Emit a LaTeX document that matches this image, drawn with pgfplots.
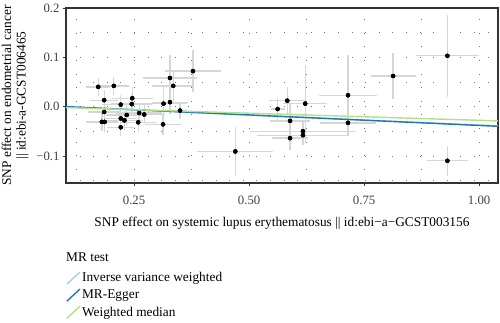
\documentclass[border=0pt]{standalone}
\usepackage{pgfplots}
\pgfplotsset{compat=1.18}
\usepackage{pgfplotstable}
\usepackage{fontspec}
\setmainfont{Liberation Serif}
\definecolor{ivw}{HTML}{A6CEE3}
\definecolor{egger}{HTML}{1F78B4}
\definecolor{wm}{HTML}{B2DF8A}
\definecolor{framec}{HTML}{333333}
\definecolor{ebar}{HTML}{D6D6D6}
\pgfplotstableread{
x y ex ey
0.172 0.040 0.026 0.018
0.206 0.042 0.032 0.018
0.185 0.013 0.030 0.020
0.185 -0.011 0.035 0.020
0.180 -0.031 0.035 0.018
0.186 -0.031 0.030 0.020
0.221 0.004 0.040 0.020
0.221 -0.024 0.035 0.020
0.221 -0.042 0.030 0.018
0.229 -0.028 0.040 0.020
0.234 -0.017 0.045 0.020
0.246 0.017 0.045 0.022
0.245 0.005 0.045 0.020
0.261 -0.013 0.050 0.020
0.259 -0.032 0.040 0.020
0.272 -0.016 0.045 0.020
0.314 0.006 0.050 0.035
0.313 -0.036 0.040 0.021
0.328 0.058 0.058 0.047
0.335 0.042 0.045 0.030
0.328 0.009 0.040 0.025
0.350 -0.008 0.015 0.017
0.378 0.072 0.061 0.043
0.470 -0.091 0.083 0.049
0.562 -0.005 0.015 0.022
0.583 0.012 0.040 0.027
0.589 -0.029 0.043 0.037
0.589 -0.064 0.040 0.025
0.617 -0.050 0.115 0.020
0.617 -0.058 0.100 0.020
0.622 0.006 0.048 0.078
0.715 0.023 0.064 0.082
0.715 -0.033 0.060 0.020
0.813 0.062 0.049 0.047
0.931 0.103 0.069 0.083
0.931 -0.110 0.044 0.030
}\snps
\begin{document}
\begin{tikzpicture}
\begin{axis}[name=ax, scale only axis, width=432bp, height=175bp,
 xmin=0.102, xmax=1.041, ymin=-0.155, ymax=0.2,
 xtick={0.25,0.5,0.75,1}, xticklabels={0.25,0.50,0.75,1.00},
 ytick={-0.1,0,0.1,0.2}, yticklabels={−0.1,0.0,0.1,0.2},
 minor xtick={0.125,0.375,0.625,0.875}, minor ytick={-0.15,-0.05,0.05,0.15},
 grid=both,
 major grid style={black!55, line width=0.6bp, dash pattern=on 0.6bp off 13bp},
 minor grid style={black!55, line width=0.6bp, dash pattern=on 0.6bp off 13bp},
 axis line style={framec, line width=1.3bp},
 tick pos=left, tick align=outside, major tick length=3bp, minor tick length=0pt,
 every tick/.style={framec, line width=0.6bp},
 tick label style={font=\fontsize{12.8}{14}\selectfont, text=black!75},
 x tick label style={yshift=-6bp},
 xlabel={SNP effect on systemic lupus erythematosus || id:ebi−a−GCST003156},
 ylabel={SNP effect on endometrial cancer\\|| id:ebi-a-GCST006465},
 ylabel style={align=center, font=\fontsize{13.4}{14.5}\selectfont, yshift=1bp},
 xlabel style={font=\fontsize{13.4}{15}\selectfont, yshift=-6bp},
 legend style={at={(0,0)}, anchor=north west, yshift=-88bp, draw=none, fill=none,
   inner sep=0pt, font=\fontsize{13.4}{15}\selectfont, row sep=3.5bp,
   nodes={inner sep=1.5bp}},
 legend cell align=left,
 legend image code/.code={\draw[#1] (0bp,-6bp) -- (13bp,6bp);},
]
\addplot[forget plot, only marks, mark=none,
  error bars/.cd, x dir=both, x explicit, y dir=both, y explicit, error mark=none,
  error bar style={ebar, line width=1.3bp}]
  table[x=x, y=y, x error=ex, y error=ey]{\snps};
\addplot[forget plot, only marks, mark=*, mark size=2bp, black] table[x=x, y=y]{\snps};
\addplot[ivw, line width=1.4bp] coordinates {(0.102,-0.001) (1.041,-0.039)};
\addlegendentry{Inverse variance weighted}
\addplot[egger, line width=1.4bp] coordinates {(0.102,0.000) (1.041,-0.040)};
\addlegendentry{MR-Egger}
\addplot[wm, line width=1.4bp] coordinates {(0.102,-0.002) (1.041,-0.029)};
\addlegendentry{Weighted median}
\end{axis}
\node[anchor=base west, font=\fontsize{13.4}{15}\selectfont, inner sep=0pt] at ([yshift=-78.5bp]ax.south west) {MR test};
\pgfresetboundingbox
\path[use as bounding box] ([xshift=-66bp,yshift=-140bp]ax.south west) rectangle ([xshift=2bp,yshift=8bp]ax.north east);
\end{tikzpicture}
\end{document}
